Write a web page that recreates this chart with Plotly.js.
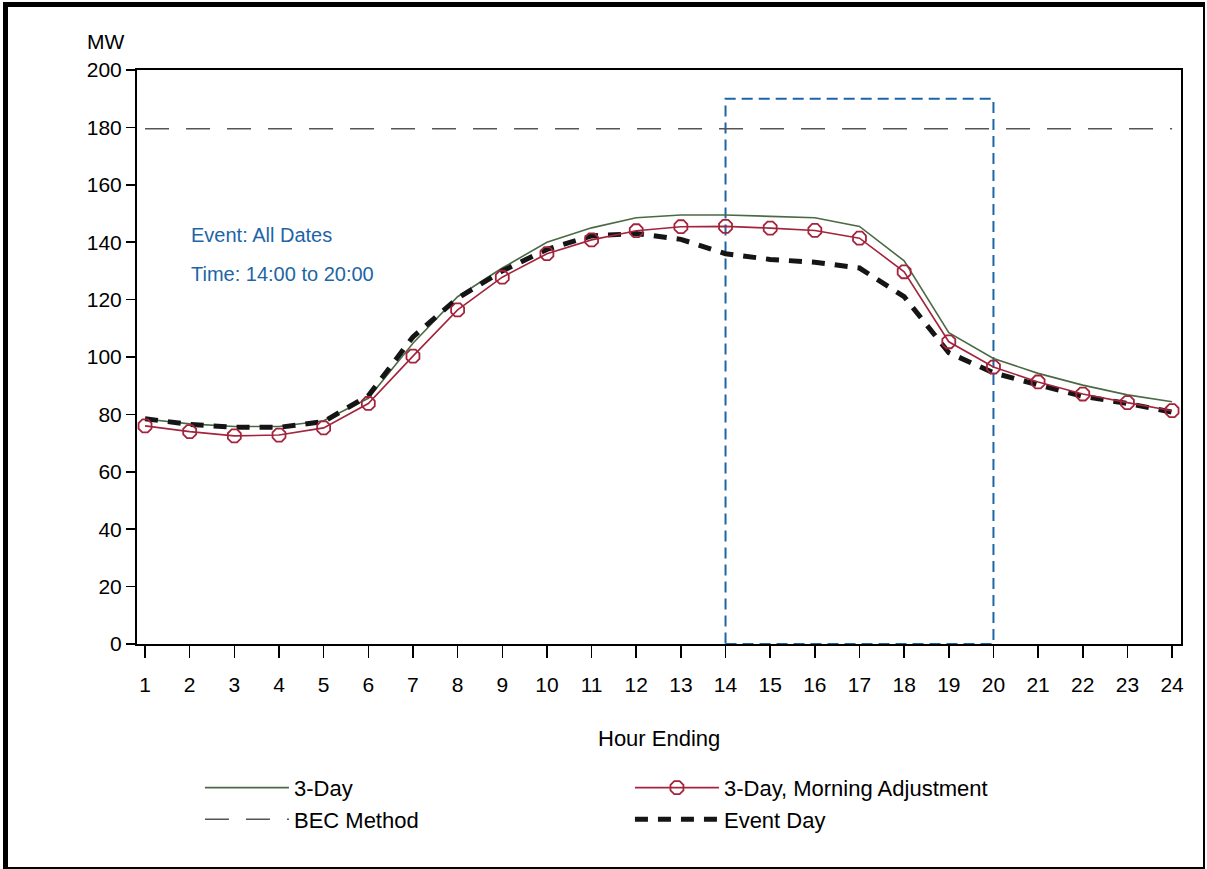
<!DOCTYPE html>
<html>
<head>
<meta charset="utf-8">
<script src="https://cdn.plot.ly/plotly-3.0.1.min.js"></script>
<style>
  html, body { margin: 0; padding: 0; background: #fff; }
  #wrap { position: relative; width: 1207px; height: 869px; }
  #chart { position: absolute; left: 0; top: 0; width: 1207px; height: 869px; }
  #frame {
    position: absolute; left: 3px; top: 2px; width: 1202px; height: 867px;
    box-sizing: border-box; pointer-events: none;
    border-left: 5px solid #000; border-top: 5px solid #000;
    border-right: 2px solid #000; border-bottom: 2px solid #000;
  }
</style>
</head>
<body>
<div id="wrap">
  <div id="chart"></div>
  <div id="frame"></div>
</div>
<script>
// Hourly load profile (MW) by hour ending
const hours = [1, 2, 3, 4, 5, 6, 7, 8, 9, 10, 11, 12, 13, 14, 15, 16, 17, 18, 19, 20, 21, 22, 23, 24];

const threeDay = [78.4, 76.7, 75.8, 75.8, 77.8, 85.6, 104.8, 121, 131, 140, 145, 148.5,
                  149.5, 149.5, 149, 148.5, 145.5, 133.5, 108.5, 99.5, 94.3, 90.2, 86.8, 84.4];

const morningAdj = [76, 74, 72.5, 72.8, 75.3, 83.8, 100.3, 116.4, 127.8, 136, 140.8, 144,
                    145.4, 145.5, 144.9, 144.1, 141.4, 129.7, 105.3, 96.5, 91.3, 87.1, 84.1, 81.3];

const eventDay = [78.5, 76.5, 75.5, 75.5, 77.5, 86.5, 107, 120.5, 130, 137.5, 142.2, 143,
                  141, 136, 134, 133, 131, 121, 101.5, 94.5, 90.3, 86.3, 83.8, 80.8];

const becMethod = [179.5, 179.5, 179.5, 179.5, 179.5, 179.5, 179.5, 179.5, 179.5, 179.5, 179.5, 179.5,
                   179.5, 179.5, 179.5, 179.5, 179.5, 179.5, 179.5, 179.5, 179.5, 179.5, 179.5, 179.5];

const yTicks = [0, 20, 40, 60, 80, 100, 120, 140, 160, 180, 200];

// Event window
const eventStart = 14;
const eventEnd = 20;
const eventTop = 190;

const FONT = '"Liberation Sans", Arial, sans-serif';
const BLUE = '#1d65a6';

const traces = [
  {
    x: hours, y: threeDay, name: '3-Day', type: 'scatter', mode: 'lines',
    line: { color: '#4b6a44', width: 1.6 }, legendrank: 1
  },
  {
    x: hours, y: becMethod, name: 'BEC Method', type: 'scatter', mode: 'lines',
    line: { color: '#555555', width: 1.5, dash: '24px,17px' }, legendrank: 3
  },
  {
    x: hours, y: eventDay, name: 'Event Day', type: 'scatter', mode: 'lines',
    line: { color: '#151515', width: 5, dash: '13px,10px' }, legendrank: 4
  },
  {
    x: hours, y: morningAdj, name: '3-Day, Morning Adjustment', type: 'scatter', mode: 'lines+markers',
    line: { color: '#a3243c', width: 1.6 },
    marker: { symbol: 'octagon-open', size: 14, color: '#a3243c', line: { color: '#a3243c', width: 1.8 } },
    legendrank: 2
  }
];

const layout = {
  width: 1207, height: 869,
  margin: { l: 137, r: 26, t: 70, b: 225 },
  paper_bgcolor: '#ffffff', plot_bgcolor: '#ffffff',
  font: { family: FONT, size: 21, color: '#000' },
  showlegend: true,
  xaxis: {
    range: [0.82, 24.2], tickvals: hours, ticktext: hours.map(String),
    ticks: 'outside', ticklen: 12, tickwidth: 1.5, tickcolor: '#000',
    ticklabelstandoff: 9,
    showline: true, linecolor: '#000', linewidth: 2, mirror: true,
    showgrid: false, zeroline: false,
    tickfont: { family: FONT, size: 21, color: '#000' }
  },
  yaxis: {
    range: [0, 200], tickvals: yTicks,
    ticks: 'outside', ticklen: 9, tickwidth: 1.5, tickcolor: '#000',
    showline: true, linecolor: '#000', linewidth: 2, mirror: true,
    showgrid: false, zeroline: false,
    tickfont: { family: FONT, size: 21, color: '#000' }
  },
  shapes: [
    {
      type: 'rect', xref: 'x', yref: 'y', layer: 'below',
      x0: eventStart, x1: eventEnd, y0: 0, y1: eventTop,
      line: { color: BLUE, width: 2, dash: '11px,6px' }, fillcolor: 'rgba(0,0,0,0)'
    }
  ],
  annotations: [
    {
      text: 'MW', xref: 'paper', yref: 'paper', x: -0.0498, y: 1.0488,
      xanchor: 'left', yanchor: 'middle', showarrow: false,
      font: { family: FONT, size: 21, color: '#000' }
    },
    {
      text: 'Hour Ending', xref: 'paper', yref: 'paper', x: 0.5, y: -0.1638,
      xanchor: 'center', yanchor: 'middle', showarrow: false,
      font: { family: FONT, size: 22, color: '#000' }
    },
    {
      text: 'Event: All Dates', xref: 'paper', yref: 'paper', x: 0.0498, y: 0.7125,
      xanchor: 'left', yanchor: 'middle', showarrow: false,
      font: { family: FONT, size: 20, color: BLUE }
    },
    {
      text: 'Time: 14:00 to 20:00', xref: 'paper', yref: 'paper', x: 0.0498, y: 0.6446,
      xanchor: 'left', yanchor: 'middle', showarrow: false,
      font: { family: FONT, size: 20, color: BLUE }
    }
  ],
  legend: {
    orientation: 'h', x: 0.0603, y: -0.214, xanchor: 'left', yanchor: 'top',
    entrywidth: 331, entrywidthmode: 'pixels', itemwidth: 84,
    font: { family: FONT, size: 22, color: '#000' },
    bgcolor: 'rgba(0,0,0,0)', borderwidth: 0, traceorder: 'normal'
  }
};

Plotly.newPlot('chart', traces, layout, { displayModeBar: false, staticPlot: true });
</script>
</body>
</html>
